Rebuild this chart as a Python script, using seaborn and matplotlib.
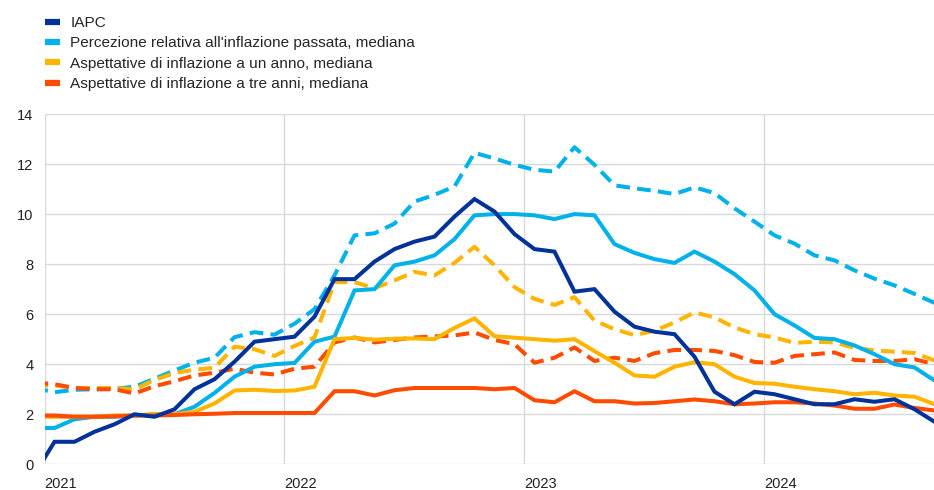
import pandas as pd
import numpy as np
import matplotlib
matplotlib.use('Agg')
import matplotlib.pyplot as plt
import matplotlib.transforms as mtransforms
from matplotlib.lines import Line2D
import seaborn as sns

# ─── Data (monthly, Dec 2020 - Sep 2024) ──────────────────────────────────────
months = pd.date_range('2020-12-01', '2024-09-01', freq='MS')

iapc = [-0.4,
        0.9, 0.9, 1.3, 1.6, 2.0, 1.9, 2.2, 3.0, 3.4, 4.1, 4.9, 5.0,
        5.1, 5.9, 7.4, 7.4, 8.1, 8.6, 8.9, 9.1, 9.9, 10.6, 10.1, 9.2,
        8.6, 8.5, 6.9, 7.0, 6.1, 5.5, 5.3, 5.2, 4.3, 2.9, 2.4, 2.9,
        2.8, 2.6, 2.4, 2.4, 2.6, 2.5, 2.6, 2.2, 1.7]

perc_median = [1.45,
               1.45, 1.8, 1.9, 1.9, 1.95, 2.0, 2.0, 2.3, 2.85, 3.5, 3.9, 4.0,
               4.05, 4.9, 5.1, 6.95, 7.0, 7.95, 8.1, 8.35, 9.0, 9.95, 10.0, 10.0,
               9.95, 9.8, 10.0, 9.95, 8.8, 8.45, 8.2, 8.05, 8.5, 8.1, 7.6, 6.95,
               6.0, 5.55, 5.05, 5.0, 4.75, 4.4, 4.0, 3.87, 3.35]

perc_mean = [3.05,
             2.88, 2.98, 3.0, 3.02, 3.1, 3.42, 3.75, 4.06, 4.26, 5.08, 5.28, 5.18,
             5.62, 6.2, 7.55, 9.15, 9.23, 9.62, 10.5, 10.77, 11.1, 12.45, 12.22, 11.97,
             11.77, 11.7, 12.67, 11.97, 11.15, 11.03, 10.93, 10.8, 11.07, 10.84, 10.23, 9.7,
             9.15, 8.82, 8.35, 8.15, 7.75, 7.42, 7.15, 6.81, 6.45]

exp1_median = [1.9,
               1.9, 1.9, 1.9, 1.95, 1.95, 2.0, 2.0, 2.1, 2.43, 2.95, 2.98, 2.93,
               2.95, 3.1, 5.0, 5.05, 4.98, 5.02, 5.03, 5.0, 5.45, 5.83, 5.12, 5.06,
               5.0, 4.94, 5.0, 4.52, 4.06, 3.55, 3.5, 3.9, 4.08, 4.0, 3.5, 3.25,
               3.22, 3.1, 3.0, 2.92, 2.8, 2.86, 2.75, 2.7, 2.4]

exp1_mean = [3.15,
             3.15, 3.05, 3.05, 3.05, 3.0, 3.37, 3.65, 3.78, 3.86, 4.7, 4.6, 4.33,
             4.73, 5.07, 7.28, 7.28, 7.04, 7.35, 7.69, 7.55, 8.05, 8.69, 7.95, 7.08,
             6.61, 6.37, 6.68, 5.74, 5.4, 5.16, 5.34, 5.67, 6.07, 5.87, 5.47, 5.2,
             5.07, 4.85, 4.9, 4.87, 4.65, 4.55, 4.5, 4.45, 4.15]

exp3_median = [1.95,
               1.95, 1.9, 1.9, 1.92, 1.95, 1.95, 1.97, 2.0, 2.02, 2.05, 2.05, 2.05,
               2.05, 2.05, 2.92, 2.92, 2.75, 2.96, 3.05, 3.05, 3.05, 3.05, 3.0, 3.05,
               2.56, 2.48, 2.92, 2.52, 2.52, 2.43, 2.45, 2.52, 2.59, 2.52, 2.4, 2.43,
               2.48, 2.48, 2.43, 2.35, 2.22, 2.22, 2.39, 2.25, 2.15]

exp3_mean = [3.27,
             3.2, 3.05, 3.0, 3.0, 2.83, 3.12, 3.32, 3.55, 3.66, 3.82, 3.66, 3.59,
             3.82, 3.9, 4.87, 5.07, 4.87, 4.97, 5.07, 5.11, 5.15, 5.27, 4.97, 4.8,
             4.06, 4.26, 4.67, 4.13, 4.26, 4.13, 4.44, 4.57, 4.57, 4.53, 4.36, 4.09,
             4.06, 4.33, 4.4, 4.47, 4.17, 4.13, 4.13, 4.2, 4.0]

labels = ['IAPC',
          "Percezione relativa all'inflazione passata, mediana",
          'Aspettative di inflazione a un anno, mediana',
          'Aspettative di inflazione a tre anni, mediana']

year_labels = ['2021', '2022', '2023', '2024']

DARK_BLUE = '#003299'
LIGHT_BLUE = '#00B1EA'
YELLOW = '#FFB400'
ORANGE = '#FF4B00'

# position of each month in "months since Jan 2021", centred in the month slot
xpos = (months.year - 2021) * 12 + months.month - 1 + 0.5

# ─── Figure ───────────────────────────────────────────────────────────────────
sns.set_theme(style='white')
plt.rcParams['font.family'] = ['Liberation Sans', 'DejaVu Sans']

fig = plt.figure(figsize=(9.34, 4.9), dpi=100)
ax = fig.add_axes([44.5 / 934, 1 - 464.3 / 490, (934.5 - 44.5) / 934, (464.3 - 114) / 490])

LW = 2.9
DASH = (0, (3.4, 1.8))

series = [
    (perc_mean, LIGHT_BLUE, DASH),
    (exp1_mean, YELLOW, DASH),
    (exp3_mean, ORANGE, DASH),
    (perc_median, LIGHT_BLUE, '-'),
    (exp1_median, YELLOW, '-'),
    (exp3_median, ORANGE, '-'),
    (iapc, DARK_BLUE, '-'),
]
for vals, col, ls in series:
    sns.lineplot(x=xpos, y=vals, color=col, linewidth=LW, linestyle=ls, ax=ax,
                 solid_joinstyle='miter', dash_capstyle='butt')

ax.set_xlim(0, 44.5)
ax.set_ylim(0, 14)
ax.set_yticks(np.arange(0, 15, 2))
ax.set_xticks([0, 12, 24, 36])
ax.set_xticklabels(year_labels, ha='left')
offset = mtransforms.ScaledTranslation(-6 / 100, 0, fig.dpi_scale_trans)
for lbl in ax.get_xticklabels():
    lbl.set_transform(lbl.get_transform() + offset)

ax.grid(True, color='#d9d9d9', linewidth=1)
ax.set_axisbelow(True)
for s in ax.spines.values():
    s.set_visible(False)
ax.tick_params(axis='both', length=0, labelsize=10.5, colors='#222222')
ax.tick_params(axis='y', pad=8)
ax.tick_params(axis='x', pad=9)
ax.set_xlabel('')
ax.set_ylabel('')

handles = [Line2D([], [], color=c, linewidth=4.5, solid_capstyle='butt')
           for c in [DARK_BLUE, LIGHT_BLUE, YELLOW, ORANGE]]
fig.legend(handles, labels, loc='upper left', bbox_to_anchor=(45 / 934, 1 - 16 / 490),
           frameon=False, fontsize=11.1, handlelength=1.0, handletextpad=0.65,
           labelspacing=0.41, borderpad=0, borderaxespad=0)

plt.savefig('out.png', dpi=100)
plt.close()
